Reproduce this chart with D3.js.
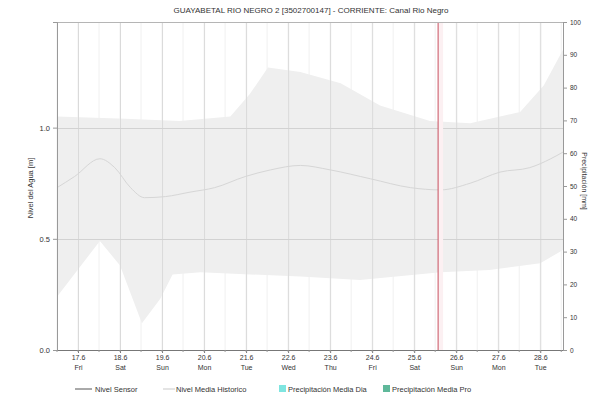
<!DOCTYPE html>
<html>
<head>
<meta charset="utf-8">
<script src="https://cdn.jsdelivr.net/npm/d3@7"></script>
<style>
  body { margin: 0; background: #fff; }
  svg { font-family: "Liberation Sans", Arial, sans-serif; }
</style>
</head>
<body>
<svg width="590" height="403"></svg>
<script>
// Historical band (max / min) and historical mean
var upperTimes = ["2022-06-16 12:00","2022-06-18 03:00","2022-06-19 10:00","2022-06-20 15:00","2022-06-21 02:00","2022-06-21 12:30","2022-06-22 07:00","2022-06-23 06:00","2022-06-24 04:30","2022-06-25 09:00","2022-06-26 08:00","2022-06-27 12:30","2022-06-28 02:00","2022-06-28 13:00"];
var upperValues = [1.05, 1.04, 1.03, 1.05, 1.15, 1.27, 1.25, 1.20, 1.10, 1.03, 1.02, 1.07, 1.19, 1.35];

var lowerTimes = ["2022-06-16 12:00","2022-06-17 12:30","2022-06-18 00:00","2022-06-18 12:30","2022-06-18 23:00","2022-06-19 06:00","2022-06-19 22:00","2022-06-22 07:00","2022-06-23 17:00","2022-06-25 15:00","2022-06-26 19:00","2022-06-28 00:00","2022-06-28 13:00"];
var lowerValues = [0.24, 0.49, 0.38, 0.12, 0.23, 0.34, 0.35, 0.33, 0.315, 0.35, 0.36, 0.39, 0.45];

var meanTimes = ["2022-06-16 12:00","2022-06-16 22:00","2022-06-17 12:30","2022-06-17 21:00","2022-06-18 06:00","2022-06-18 14:00","2022-06-19 02:00","2022-06-19 16:00","2022-06-20 06:00","2022-06-20 23:30","2022-06-21 14:00","2022-06-22 07:00","2022-06-23 00:00","2022-06-23 23:00","2022-06-24 22:00","2022-06-25 15:00","2022-06-26 08:00","2022-06-27 01:00","2022-06-27 18:00","2022-06-28 06:00","2022-06-28 13:00"];
var meanValues = [0.73, 0.78, 0.86, 0.82, 0.73, 0.685, 0.69, 0.71, 0.73, 0.78, 0.81, 0.83, 0.81, 0.77, 0.73, 0.72, 0.75, 0.80, 0.82, 0.86, 0.89];

var nowTime = "2022-06-25 13:40";

var dayTicks = ["2022-06-17","2022-06-18","2022-06-19","2022-06-20","2022-06-21","2022-06-22","2022-06-23","2022-06-24","2022-06-25","2022-06-26","2022-06-27","2022-06-28"];
var dayLabels = ["17.6","18.6","19.6","20.6","21.6","22.6","23.6","24.6","25.6","26.6","27.6","28.6"];
var weekdayLabels = ["Fri","Sat","Sun","Mon","Tue","Wed","Thu","Fri","Sat","Sun","Mon","Tue"];

var levelTicks = [0, 0.5, 1.0];
var levelTickLabels = ["0.0", "0.5", "1.0"];

var legendNames = ["Nivel Sensor", "Nivel Media Historico", "Precipitación Media Dia", "Precipitación Media Pro"];

var parse = d3.timeParse("%Y-%m-%d %H:%M");
var parseDay = d3.timeParse("%Y-%m-%d");

var svg = d3.select("svg");
var margin = {left: 57, right: 27, top: 22, bottom: 53};
var width = 590, height = 403;
var x0 = margin.left, x1 = width - margin.right;
var y0 = height - margin.bottom, y1 = margin.top;

var x = d3.scaleTime()
  .domain([parse("2022-06-16 12:00"), parse("2022-06-28 13:00")])
  .range([x0, x1]);
var y = d3.scaleLinear().domain([0, 1.475]).range([y0, y1]);
var yr = d3.scaleLinear().domain([0, 100]).range([y0, y1]);

// minor vertical grid (every 12 h)
var minor = d3.timeHour.every(12).range(x.domain()[0], x.domain()[1]);
svg.append("g").selectAll("line")
  .data(minor)
  .enter().append("line")
    .attr("x1", d => x(d)).attr("x2", d => x(d))
    .attr("y1", y1).attr("y2", y0)
    .attr("stroke", "#f0f0f0").attr("stroke-width", 1);

// band
var upper = upperTimes.map((t, i) => ({t: parse(t), v: upperValues[i]}));
var lower = lowerTimes.map((t, i) => ({t: parse(t), v: lowerValues[i]}));
var bandPts = upper.map(d => [x(d.t), y(d.v)])
  .concat(lower.slice().reverse().map(d => [x(d.t), y(d.v)]));
svg.append("path")
  .attr("d", d3.line().curve(d3.curveLinear)(bandPts) + "Z")
  .attr("fill", "#efefef")
  .attr("stroke", "none");

// major vertical grid at days
svg.append("g").selectAll("line")
  .data(dayTicks)
  .enter().append("line")
    .attr("x1", d => x(parseDay(d)) + 0.5).attr("x2", d => x(parseDay(d)) + 0.5)
    .attr("y1", y1).attr("y2", y0)
    .attr("stroke", "#dadada").attr("stroke-width", 1);

// horizontal grid
svg.append("g").selectAll("line")
  .data(levelTicks.slice(1))
  .enter().append("line")
    .attr("x1", x0).attr("x2", x1)
    .attr("y1", d => Math.round(y(d)) + 0.5).attr("y2", d => Math.round(y(d)) + 0.5)
    .attr("stroke", "#d2d2d2");

// mean line
var mean = meanTimes.map((t, i) => ({t: parse(t), v: meanValues[i]}));
svg.append("path")
  .datum(mean)
  .attr("d", d3.line().x(d => x(d.t)).y(d => y(d.v)).curve(d3.curveMonotoneX))
  .attr("fill", "none")
  .attr("stroke", "#d6d6d6")
  .attr("stroke-width", 1);

// now marker
var nx = x(parse(nowTime));
svg.append("rect").attr("x", nx).attr("y", y1).attr("width", 5).attr("height", y0 - y1)
  .attr("fill", "#fcf0f2");
svg.append("line").attr("x1", nx).attr("x2", nx).attr("y1", y1).attr("y2", y0)
  .attr("stroke", "#c8505f").attr("stroke-width", 1);

// frame
svg.append("rect").attr("x", x0 + 0.5).attr("y", y1 + 0.5)
  .attr("width", x1 - x0).attr("height", y0 - y1)
  .attr("fill", "none").attr("stroke", "#b5b5b5");
svg.append("line").attr("x1", x0).attr("x2", x1).attr("y1", y0 + 0.5).attr("y2", y0 + 0.5)
  .attr("stroke", "#777");

// left axis
var gl = svg.append("g").attr("transform", "translate(" + x0 + ",0)")
  .call(d3.axisLeft(y).tickValues(levelTicks).tickFormat((d, i) => levelTickLabels[i]).tickSize(4));
gl.select(".domain").attr("stroke", "#999");
gl.selectAll(".tick line").attr("stroke", "#999");
gl.selectAll("text").attr("font-size", 7.5).attr("fill", "#333");

svg.append("text")
  .attr("transform", "translate(33," + ((y0 + y1) / 2 + 2) + ") rotate(-90)")
  .attr("text-anchor", "middle")
  .attr("font-size", 7.5).attr("fill", "#333")
  .text("Nivel del Agua [m]");

// right axis
var gr = svg.append("g").attr("transform", "translate(" + x1 + ",0)")
  .call(d3.axisRight(yr).tickValues(d3.range(0, 101, 10)).tickSize(4));
gr.select(".domain").attr("stroke", "#999");
gr.selectAll(".tick line").attr("stroke", "#999");
gr.selectAll("text").attr("font-size", 6.5).attr("fill", "#333");

svg.append("text")
  .attr("transform", "translate(582," + ((y0 + y1) / 2 - 5) + ") rotate(90)")
  .attr("text-anchor", "middle")
  .attr("font-size", 7).attr("fill", "#333")
  .text("Precipitación [mm]");

// bottom axis
var gb = svg.append("g").attr("transform", "translate(0," + y0 + ")")
  .call(d3.axisBottom(x).tickValues(dayTicks.map(parseDay)).tickSize(3).tickFormat(""));
gb.select(".domain").remove();
gb.selectAll(".tick line").attr("stroke", "#777");
var tickText = gb.selectAll(".tick").append("text")
  .attr("fill", "#333").attr("font-size", 7).attr("text-anchor", "middle");
tickText.append("tspan").attr("x", 0).attr("y", 10).text((d, i) => dayLabels[i]);
tickText.append("tspan").attr("x", 0).attr("y", 20).text((d, i) => weekdayLabels[i]);

// minor bottom ticks
svg.append("g").selectAll("line")
  .data(minor)
  .enter().append("line")
    .attr("x1", d => x(d)).attr("x2", d => x(d))
    .attr("y1", y0).attr("y2", y0 + 2)
    .attr("stroke", "#999");

// title
svg.append("text")
  .attr("x", (x0 + x1) / 2 + 1).attr("y", 13)
  .attr("text-anchor", "middle")
  .attr("font-size", 8).attr("fill", "#333")
  .text("GUAYABETAL RIO NEGRO 2 [3502700147] - CORRIENTE: Canal Rio Negro");

// legend
var ly = 392;
var lg = svg.append("g").attr("font-size", 7.5).attr("fill", "#333");
lg.append("line").attr("x1", 75).attr("x2", 92).attr("y1", ly - 3).attr("y2", ly - 3)
  .attr("stroke", "#555").attr("stroke-width", 1);
lg.append("text").attr("x", 95).attr("y", ly).text(legendNames[0]);
lg.append("line").attr("x1", 163).attr("x2", 175).attr("y1", ly - 3).attr("y2", ly - 3)
  .attr("stroke", "#d2d2d2").attr("stroke-width", 1.2);
lg.append("text").attr("x", 176).attr("y", ly).text(legendNames[1]);
lg.append("rect").attr("x", 279).attr("y", ly - 7).attr("width", 7).attr("height", 7)
  .attr("fill", "#7fe5e0");
lg.append("text").attr("x", 288).attr("y", ly).text(legendNames[2]);
lg.append("rect").attr("x", 383).attr("y", ly - 7).attr("width", 7).attr("height", 7)
  .attr("fill", "#5fb89a");
lg.append("text").attr("x", 392).attr("y", ly).text(legendNames[3]);
</script>
</body>
</html>
